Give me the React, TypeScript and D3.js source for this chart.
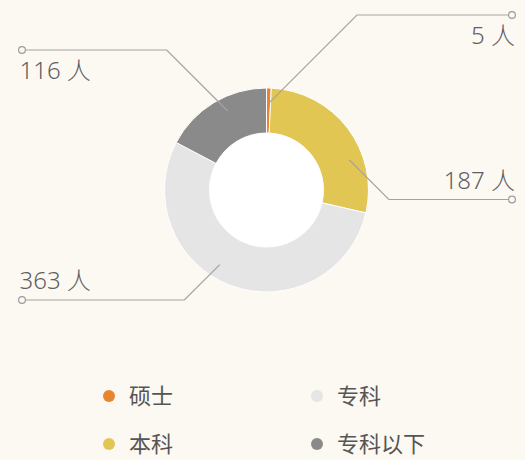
import React, { useEffect, useRef } from 'react';
import * as d3 from 'd3';

// degree breakdown (people)
const categories = ['硕士', '本科', '专科', '专科以下'];
const counts = [5, 187, 363, 116];
const colors = ['#e8852f', '#e2c654', '#e5e5e5', '#8a8a8a'];

// callout layout: where along the slice the leader starts,
// which row (px) the label sits on, and which side it goes to
const leaderAt = [0.82, 0.67, 0.56, 0.58];
const labelRow = [15, 199.5, 300, 50];
const labelSide = ['right', 'right', 'left', 'left'];
const labelBelow = [true, false, false, true];

const W = 525;
const H = 460;
const BG = '#fcf8f2';

export default function App() {
    const svgRef = useRef<SVGSVGElement | null>(null);

    useEffect(() => {
        if (!svgRef.current) return;
        const svg = d3.select(svgRef.current);
        svg.selectAll('*').remove();

        const cx = 266.5;
        const cy = 190;
        const inner = 57;
        const outer = 102;

        const data = categories.map((name, i) => ({ name, value: counts[i], i }));
        const pie = d3.pie<any>().sort(null).value(d => d.value);
        const arcs = pie(data);

        const arc = d3.arc<any>().innerRadius(inner).outerRadius(outer);

        const g = svg.append('g').attr('transform', `translate(${cx},${cy})`);

        // white hole
        g.append('circle').attr('r', inner).attr('fill', '#fff');

        g.selectAll('path.slice')
            .data(arcs)
            .enter()
            .append('path')
            .attr('class', 'slice')
            .attr('d', arc as any)
            .attr('fill', d => colors[d.data.i])
            .attr('stroke', '#fff')
            .attr('stroke-width', 1);

        // leader lines + labels
        const leaderR = 88;
        const leftX = 22;
        const rightX = 512;
        const fontStack = "'Noto Sans', 'Noto Sans CJK SC', sans-serif";

        arcs.forEach(a => {
            const i = a.data.i;
            const ang = a.startAngle + (a.endAngle - a.startAngle) * leaderAt[i];
            const sx = cx + leaderR * Math.sin(ang);
            const sy = cy - leaderR * Math.cos(ang);
            const ry = labelRow[i];
            const dir = labelSide[i] === 'right' ? 1 : -1;
            const ex = sx + dir * Math.abs(ry - sy);
            const endX = dir > 0 ? rightX : leftX;

            svg.append('path')
                .attr('d', d3.line()([[sx, sy], [ex, ry], [endX, ry]]))
                .attr('fill', 'none')
                .attr('stroke', '#a3a3a3')
                .attr('stroke-width', 1.2);

            svg.append('circle')
                .attr('cx', endX)
                .attr('cy', ry)
                .attr('r', 3.4)
                .attr('fill', BG)
                .attr('stroke', '#9c9c9c')
                .attr('stroke-width', 1.2);

            svg.append('text')
                .attr('x', dir > 0 ? endX + 3 : endX - 2.5)
                .attr('y', labelBelow[i] ? ry + 29 : ry - 11)
                .attr('text-anchor', dir > 0 ? 'end' : 'start')
                .attr('font-family', fontStack)
                .attr('font-weight', 300)
                .attr('font-size', 24)
                .attr('fill', '#5f5f5f')
                .text(`${a.data.value} 人`);
        });

        // legend, two columns
        const legendX = d3.scalePoint<number>().domain([0, 1]).range([109, 317]);
        const legendY = d3.scalePoint<number>().domain([0, 1]).range([396, 444]);
        // column-major order as in the picture: 硕士, 本科 | 专科, 专科以下
        const legend = svg.append('g');
        categories.forEach((name, i) => {
            const col = Math.floor(i / 2);
            const row = i % 2;
            const x = legendX(col)!;
            const y = legendY(row)!;
            legend.append('circle')
                .attr('cx', x)
                .attr('cy', y)
                .attr('r', 6)
                .attr('fill', colors[i]);
            legend.append('text')
                .attr('x', x + 20)
                .attr('y', y)
                .attr('dy', '0.36em')
                .attr('font-family', "'Noto Sans CJK SC', sans-serif")
                .attr('font-size', 22)
                .attr('fill', '#555')
                .text(name);
        });
    }, []);

    return (
        <div style={{ position: 'fixed', left: 0, top: 0, width: W, height: H, background: BG }}>
            <svg ref={svgRef} width={W} height={H} style={{ display: 'block' }} />
        </div>
    );
}
